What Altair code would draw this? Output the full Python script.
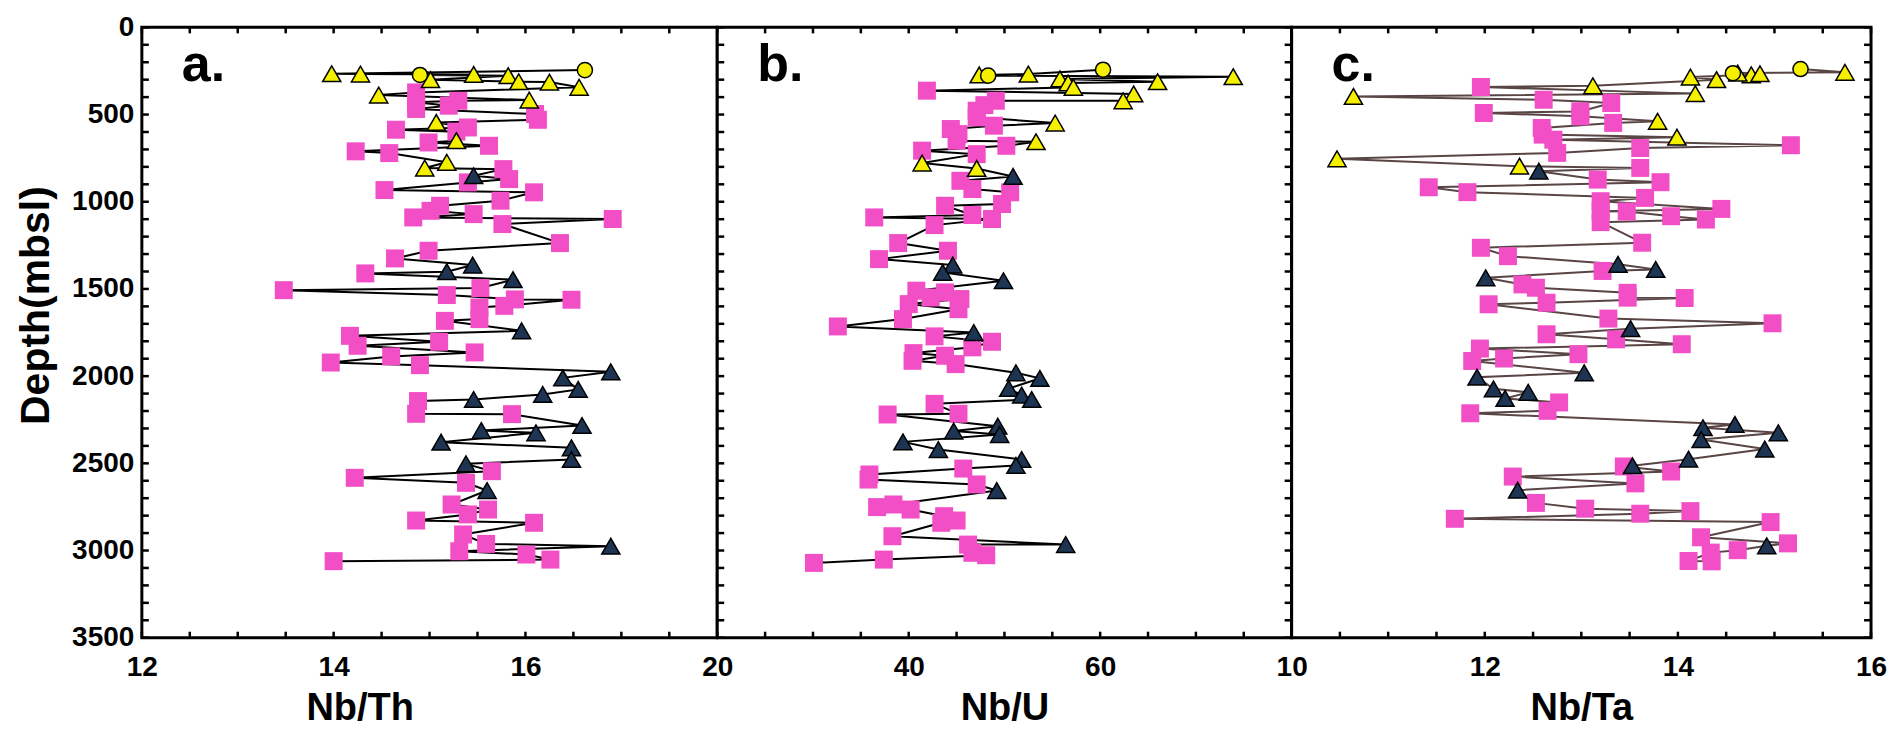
import altair as alt
import pandas as pd

FONT = "Liberation Sans"
H = 611
W_A, W_B, W_C = 576, 575, 580

# ---------------- Panel a: Nb/Th ----------------
a_yt_val = [13.98, 14.28, 15.01, 15.46, 15.82, 15.93, 16.25, 16.56, 14.47, 16.04, 15.07, 15.28, 15.18, 14.95]
a_yt_dep = [266, 268, 300, 270, 277, 312, 314, 344, 388, 417, 545, 650, 774, 807]
a_yc_val = [14.90, 16.62]
a_yc_dep = [273, 245]
a_nv_val = [15.46, 15.18, 15.45, 15.87, 15.96, 16.89, 16.39, 16.55, 16.18, 15.46, 16.59, 15.54, 16.11, 15.12, 16.48, 16.48, 15.38, 15.60, 16.89]
a_nv_dep = [851, 1401, 1363, 1447, 1740, 1975, 2010, 2076, 2105, 2134, 2283, 2312, 2325, 2379, 2411, 2478, 2503, 2656, 2975]
a_pk_val = [14.86, 14.86, 14.86, 15.30, 15.20, 16.10, 16.13, 14.65, 15.40, 15.28, 14.99, 15.62, 14.23, 14.58,
            15.77, 15.83, 15.40, 14.53, 16.09, 15.74, 15.11, 15.01, 14.83, 15.46, 15.76, 16.91, 16.36, 14.99,
            14.64, 14.33, 13.48, 15.18, 15.53, 16.48, 15.89, 15.78, 15.52, 15.52, 15.16, 14.17, 14.25, 15.10,
            14.60, 15.47, 13.97, 14.90,
            14.88, 14.86, 15.86, 14.22, 15.65, 15.38, 15.23, 15.61, 15.40, 14.86, 16.09, 15.35, 15.59, 15.31,
            16.01, 16.26, 14.00]
a_pk_dep = [373, 430, 468, 421, 449, 497, 530, 587, 574, 598, 660, 679, 711, 721,
            813, 870, 889, 933, 946, 994, 1023, 1052, 1090, 1071, 1128, 1099, 1237, 1281,
            1325, 1411, 1507, 1535, 1495, 1562, 1560, 1597, 1606, 1673, 1683, 1769, 1826, 1803,
            1887, 1864, 1922, 1937,
            2143, 2216, 2218, 2583, 2545, 2612, 2736, 2765, 2793, 2828, 2841, 2908, 2962, 3004,
            3023, 3052, 3061]

# ---------------- Panel b: Nb/U ----------------
b_yt_val = [47.36, 52.5, 55.8, 56.65, 57.2, 66.0, 73.9, 63.5, 62.4, 55.3, 53.3, 41.4, 47.1]
b_yt_dep = [273, 268, 296, 319, 344, 312, 283, 382, 421, 549, 656, 778, 809]
b_yc_val = [48.3, 60.3]
b_yc_dep = [277, 243]
b_nv_val = [50.9, 44.6, 43.55, 49.9, 46.8, 51.2, 53.7, 50.45, 51.8, 52.85, 49.3, 49.5, 44.7, 39.4, 43.1, 51.8, 51.2, 49.2, 56.4]
b_nv_dep = [855, 1363, 1405, 1453, 1750, 1981, 2013, 2071, 2109, 2134, 2287, 2335, 2315, 2377, 2421, 2478, 2512, 2656, 2966]
b_pk_val = [41.9, 49.1, 47.9, 47.1, 47.1, 48.9, 44.4, 45.2, 45.0, 50.2, 41.4, 47.1, 45.4, 46.65, 50.6, 49.75,
            43.8, 46.65, 48.7, 36.4, 42.7, 38.9, 44.1, 36.9, 40.8, 43.8, 42.3, 45.4, 40.0, 45.2, 39.4, 32.6,
            42.7, 48.7, 46.65, 40.5, 40.4, 43.8, 44.9,
            42.7, 37.8, 45.2, 45.7, 35.9, 35.8, 47.1, 36.7, 38.4, 40.2, 43.7, 45.0, 43.4, 38.3, 46.2, 46.65,
            48.1, 37.4, 30.1]
b_pk_dep = [363, 421, 446, 478, 516, 564, 583, 612, 650, 679, 707, 727, 880, 927, 946, 1013,
            1023, 1076, 1099, 1090, 1134, 1237, 1281, 1329, 1510, 1520, 1549, 1558, 1587, 1616, 1673, 1715,
            1772, 1803, 1835, 1868, 1912, 1883, 1931,
            2159, 2220, 2216, 2530, 2564, 2593, 2621, 2751, 2736, 2765, 2803, 2828, 2841, 2918, 2966, 3013,
            3027, 3052, 3071]

# ---------------- Panel c: Nb/Ta ----------------
c_yt_val = [15.73, 14.13, 14.40, 14.76, 14.85, 14.62, 14.18, 13.12, 10.64, 13.79, 13.99, 10.47, 12.36]
c_yt_dep = [258, 285, 300, 272, 266, 262, 380, 335, 396, 539, 630, 754, 796]
c_yc_val = [15.27, 14.57]
c_yc_dep = [239, 263]
c_nv_val = [12.56, 13.38, 13.77, 12.01, 13.51, 13.03, 11.92, 12.09, 12.45, 12.21, 14.26, 14.59, 15.04, 14.24, 14.90, 14.11, 13.53, 12.34, 14.92]
c_nv_dep = [825, 1359, 1388, 1436, 1728, 1981, 2006, 2073, 2093, 2128, 2296, 2277, 2325, 2364, 2418, 2476, 2514, 2654, 2973]
c_pk_val = [11.96, 12.61, 13.31, 11.99, 12.99, 12.99, 13.33, 12.59, 12.60, 12.71, 12.75, 13.61, 15.17, 13.61,
            13.17, 13.82, 11.42, 11.82, 13.66, 13.20, 13.20, 13.47, 13.93, 14.45, 14.29, 13.20, 13.63, 11.96,
            12.24, 13.22, 12.39, 12.53, 13.48, 13.48, 14.07, 12.04, 12.64, 13.28, 14.98, 12.64, 13.36, 14.04,
            11.95, 12.97, 11.87, 12.20,
            12.77, 11.85, 12.65, 13.44, 13.93, 12.29, 13.56, 12.53, 13.04, 13.61, 14.13, 11.69, 14.96, 14.24,
            15.14, 14.62, 14.34, 14.11, 14.35]
c_pk_dep = [342, 415, 434, 491, 482, 510, 548, 577, 615, 644, 720, 692, 676, 806,
            873, 888, 917, 945, 978, 997, 1054, 1056, 1083, 1041, 1102, 1117, 1235, 1264,
            1312, 1397, 1474, 1493, 1522, 1550, 1552, 1588, 1579, 1670, 1697, 1760, 1789, 1817,
            1842, 1874, 1913, 1899,
            2151, 2213, 2199, 2518, 2547, 2576, 2615, 2727, 2760, 2789, 2774, 2818, 2837, 2924,
            2959, 2998, 3012, 3060, 3062]

DEPTH_LABELS = [0, 500, 1000, 1500, 2000, 2500, 3000, 3500]
DEPTH_TICKS = list(range(0, 3501, 100))

PINK = "#f24fc6"
YELLOW = "#f5ef00"
NAVY = "#1d3553"


def panel(groups, xdom, xlabels, xticks, title, letter, line_color, width,
          left_ticks, right_ticks, show_y, title_x=None):
    rows = []
    for g, vals, deps in groups:
        for v, d in zip(vals, deps):
            rows.append({"g": g, "v": v, "d": d})
    df = pd.DataFrame(rows)

    xscale = alt.Scale(domain=xdom, nice=False, zero=False)
    yscale = alt.Scale(domain=[0, 3500], reverse=True, nice=False, zero=False)
    xkw = dict(values=xlabels, ticks=False, domain=False, grid=False, title=title,
               labelPadding=16, titlePadding=8, labelFontSize=28, titleFontSize=38,
               labelFlush=False, format="d", labelFont=FONT, titleFont=FONT,
               labelFontWeight="bold", titleFontWeight="bold",
               labelColor="black", titleColor="black")
    if title_x is not None:
        xkw["titleX"] = title_x
    xaxis = alt.Axis(**xkw)
    if show_y:
        yaxis = alt.Axis(values=DEPTH_LABELS, ticks=False, domain=False, grid=False,
                         title="Depth(mbsl)", labelPadding=8, titlePadding=14,
                         labelFontSize=28, titleFontSize=41, labelFlush=False, format="d",
                         titleY=278,
                         labelFont=FONT, titleFont=FONT, labelFontWeight="bold",
                         titleFontWeight="bold", labelColor="black", titleColor="black")
    else:
        yaxis = None

    X = alt.X("v:Q", scale=xscale, axis=xaxis)
    Y = alt.Y("d:Q", scale=yscale, axis=yaxis)

    base = alt.Chart(df).encode(x=X, y=Y)
    line = base.mark_line(color=line_color, strokeWidth=2).encode(order=alt.Order("d:Q"))
    pk = base.transform_filter(alt.datum.g == "pk").mark_point(
        shape="square", filled=True, fill=PINK, stroke=PINK, strokeWidth=0, size=324, opacity=1)
    nv = base.transform_filter(alt.datum.g == "nv").mark_point(
        shape="triangle-up", filled=True, fill=NAVY, stroke="black", strokeWidth=1.5, size=330, opacity=1)
    yt = base.transform_filter(alt.datum.g == "yt").mark_point(
        shape="triangle-up", filled=True, fill=YELLOW, stroke="black", strokeWidth=1.5, size=330, opacity=1)
    yc = base.transform_filter(alt.datum.g == "yc").mark_point(
        shape="circle", filled=True, fill=YELLOW, stroke="black", strokeWidth=1.5, size=230, opacity=1)

    layers = [line, pk, nv, yt, yc]

    ydf = pd.DataFrame({"d": DEPTH_TICKS})
    xdf = pd.DataFrame({"v": xticks})
    tick_style = dict(color="black", strokeWidth=2.5)
    if left_ticks:
        layers.append(alt.Chart(ydf).mark_rule(**tick_style).encode(
            y=Y, x=alt.value(0), x2=alt.value(7)))
    if right_ticks:
        layers.append(alt.Chart(ydf).mark_rule(**tick_style).encode(
            y=Y, x=alt.value(width - 7), x2=alt.value(width)))
    layers.append(alt.Chart(xdf).mark_rule(**tick_style).encode(
        x=X, y=alt.value(0), y2=alt.value(6)))
    layers.append(alt.Chart(xdf).mark_rule(**tick_style).encode(
        x=X, y=alt.value(H - 6), y2=alt.value(H)))

    txt = alt.Chart(pd.DataFrame({"t": [letter]})).mark_text(
        align="left", baseline="alphabetic", fontSize=52, fontWeight="bold",
        font=FONT, color="black").encode(text="t:N", x=alt.value(40), y=alt.value(54))
    layers.append(txt)

    return alt.layer(*layers).properties(
        width=width, height=H,
        view=alt.ViewBackground(stroke="black", strokeWidth=3, fill="white"))


pa = panel([("yt", a_yt_val, a_yt_dep), ("yc", a_yc_val, a_yc_dep),
            ("nv", a_nv_val, a_nv_dep), ("pk", a_pk_val, a_pk_dep)],
           [12, 18], [12, 14, 16], [12 + 0.5 * i for i in range(13)],
           "Nb/Th", "a.", "black", W_A, True, False, True, title_x=218)
pb = panel([("yt", b_yt_val, b_yt_dep), ("yc", b_yc_val, b_yc_dep),
            ("nv", b_nv_val, b_nv_dep), ("pk", b_pk_val, b_pk_dep)],
           [20, 80], [20, 40, 60], [20 + 5 * i for i in range(13)],
           "Nb/U", "b.", "black", W_B, True, True, False)
pc = panel([("yt", c_yt_val, c_yt_dep), ("yc", c_yc_val, c_yc_dep),
            ("nv", c_nv_val, c_nv_dep), ("pk", c_pk_val, c_pk_dep)],
           [10, 16], [10, 12, 14, 16], [10 + 0.5 * i for i in range(13)],
           "Nb/Ta", "c.", "#5a4545", W_C, False, True, False)

chart = alt.hconcat(pa, pb, pc, spacing=0, bounds="flush").properties(
    padding={"left": 14, "top": 11, "right": 5, "bottom": 0}
).resolve_scale(x="independent", y="independent").configure_view(
    stroke="black", strokeWidth=3
).configure(background="white")

chart.save("out.html", embed_options={"renderer": "svg", "actions": False})
